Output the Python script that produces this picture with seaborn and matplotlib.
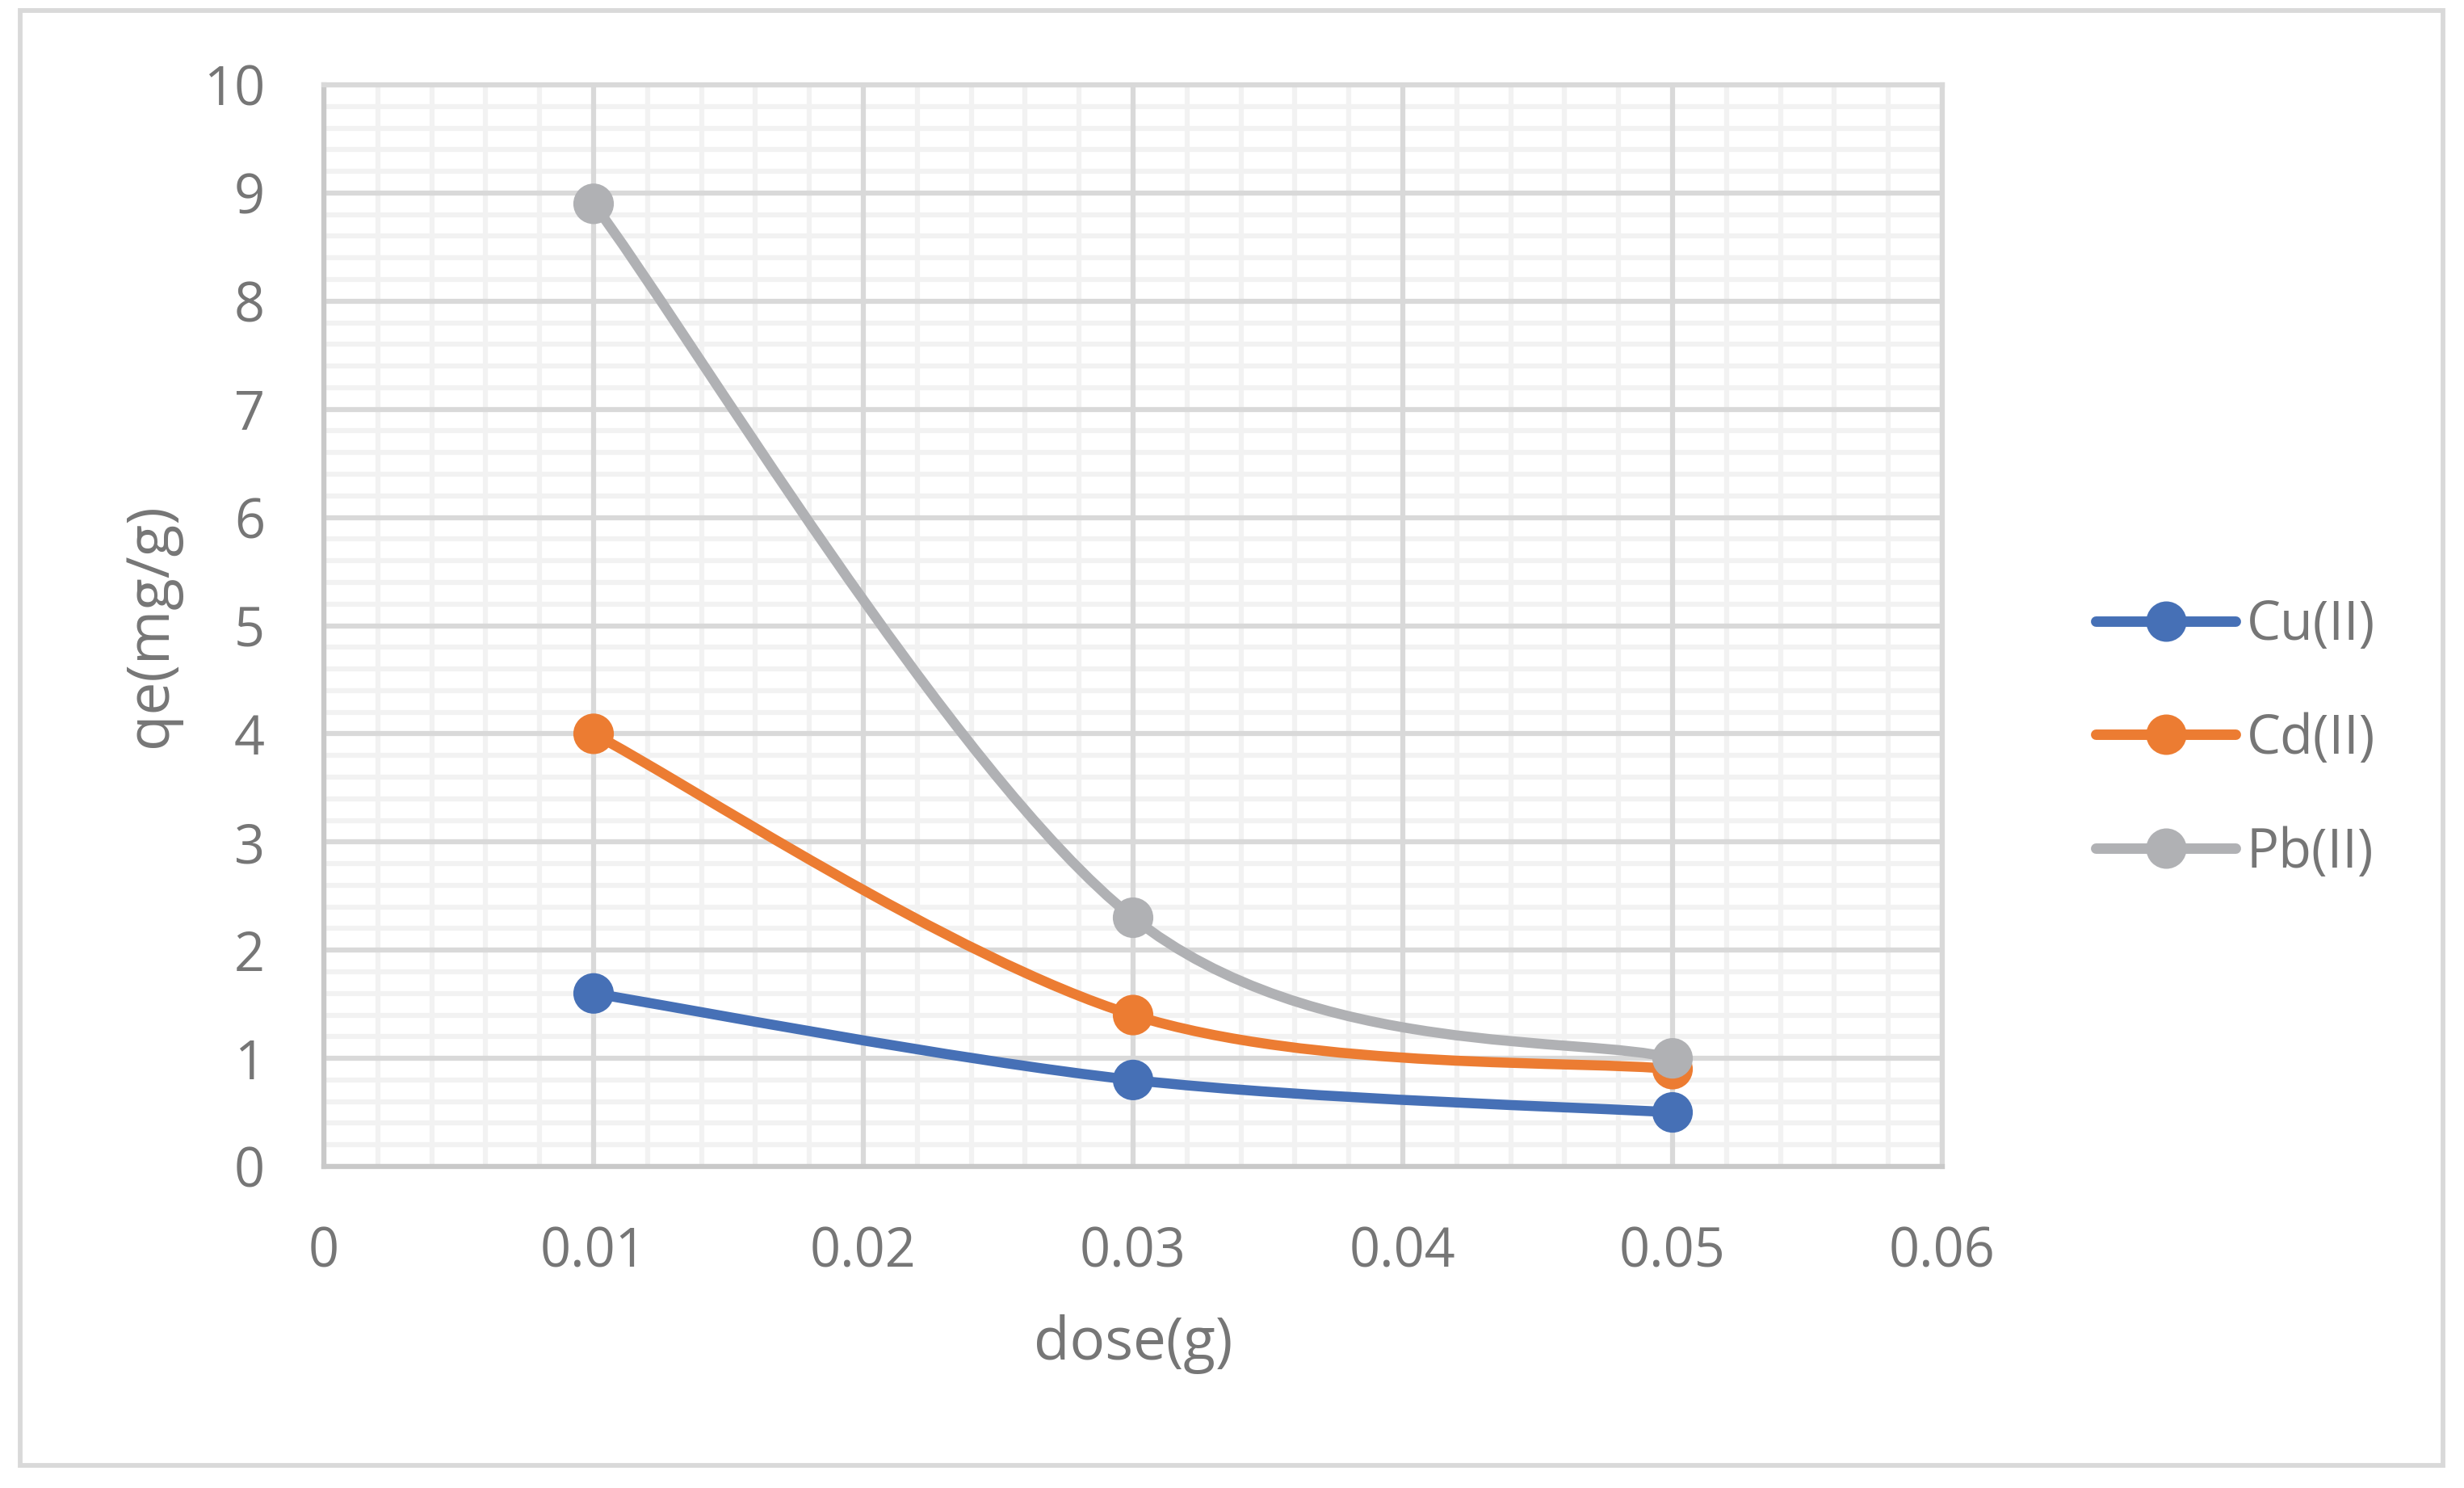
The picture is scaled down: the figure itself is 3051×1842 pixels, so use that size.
import matplotlib
matplotlib.use('Agg')
import matplotlib.pyplot as plt
from matplotlib.path import Path
from matplotlib.patches import PathPatch, Rectangle
from matplotlib.lines import Line2D
from matplotlib.ticker import MultipleLocator, FuncFormatter
import seaborn as sns
import pandas as pd
import numpy as np

# data
dose = [0.01, 0.03, 0.05]
cu = [1.6, 0.8, 0.5]
cd = [4.0, 1.4, 0.9]
pb = [8.9, 2.3, 1.0]
series_names = ['Cu(II)', 'Cd(II)', 'Pb(II)']
series_colors = ['#4670b6', '#ec7c32', '#b0b1b4']

x_label = 'dose(g)'
y_label = 'qe(mg/g)'

text_color = '#767676'

sns.set_style('white')
plt.rcParams['font.family'] = ['Open Sans', 'DejaVu Sans']

df = pd.DataFrame({
    'dose': dose * 3,
    'qe': cu + cd + pb,
    'metal': [n for n in series_names for _ in dose],
})


def smooth_path(xs, ys):
    # kurva bezier seperti garis "smoothed" di Excel
    pts = np.column_stack([xs, ys]).astype(float)
    n = len(pts)
    verts = [pts[0]]
    codes = [Path.MOVETO]
    for i in range(n - 1):
        p_prev = pts[i - 1] if i > 0 else pts[i]
        p_next = pts[i + 2] if i + 2 < n else pts[i + 1]
        c1 = pts[i] + (pts[i + 1] - p_prev) / 6.0
        c2 = pts[i + 1] - (p_next - pts[i]) / 6.0
        verts += [c1, c2, pts[i + 1]]
        codes += [Path.CURVE4] * 3
    return Path(verts, codes)


fig = plt.figure(figsize=(3051 / 300, 1842 / 300), dpi=300)
ax = fig.add_axes([401 / 3051, 1 - 1444 / 1842, 2004 / 3051, 1339 / 1842])

for vals, color in zip([cu, cd, pb], series_colors):
    patch = PathPatch(smooth_path(dose, vals), facecolor='none', edgecolor=color,
                      linewidth=3.0, capstyle='round', joinstyle='round', zorder=3)
    ax.add_patch(patch)

sns.scatterplot(data=df, x='dose', y='qe', hue='metal', palette=series_colors,
                s=145, linewidth=0, legend=False, zorder=4, ax=ax, clip_on=False)

ax.set_xlim(0, 0.06)
ax.set_ylim(0, 10)
ax.xaxis.set_major_locator(MultipleLocator(0.01))
ax.xaxis.set_minor_locator(MultipleLocator(0.002))
ax.yaxis.set_major_locator(MultipleLocator(1))
ax.yaxis.set_minor_locator(MultipleLocator(0.2))
ax.xaxis.set_major_formatter(FuncFormatter(lambda v, p: '%g' % round(v, 4)))
ax.yaxis.set_major_formatter(FuncFormatter(lambda v, p: '%g' % round(v, 4)))

# grid minor dulu, grid mayor di atasnya
ax.grid(which='minor', color='#f2f2f2', linewidth=1.5)
ax.set_axisbelow(True)
ax.vlines(ax.get_xticks(), 0, 10, color='#d9d9d9', linewidth=1.5, zorder=0.8)
ax.hlines(ax.get_yticks(), 0, 0.06, color='#d9d9d9', linewidth=1.5, zorder=0.8)
ax.set_xlim(0, 0.06)
ax.set_ylim(0, 10)

for side in ['top', 'right']:
    ax.spines[side].set_color('#d9d9d9')
    ax.spines[side].set_linewidth(1.5)
for side in ['left', 'bottom']:
    ax.spines[side].set_color('#c9c9c9')
    ax.spines[side].set_linewidth(1.5)

ax.tick_params(which='major', direction='out', length=4.5, width=1.5, color='#d0d0d0',
               labelsize=16, labelcolor=text_color, pad=13)
ax.tick_params(which='minor', length=0)

ax.set_xlabel(x_label, fontsize=17.5, color=text_color, va='center')
ax.set_ylabel(y_label, fontsize=17.5, color=text_color, va='center', rotation=90)
ax.xaxis.set_label_coords(0.5, (1444 - 1664) / 1339)
ax.yaxis.set_label_coords((187 - 401) / 2004, 0.5)

handles = [Line2D([0], [0], color=c, linewidth=3.1, marker='o', markersize=12,
                  markeredgewidth=0, solid_capstyle='round') for c in series_colors]
fig.legend(handles, series_names, loc='center left',
           bbox_to_anchor=(2595 / 3051, 1 - 915 / 1842), frameon=False,
           fontsize=16, labelcolor=text_color, handlelength=2.6, handletextpad=0.2,
           labelspacing=1.1, borderpad=0, borderaxespad=0)

fig.add_artist(Rectangle((25 / 3051, 1 - 1814 / 1842), 3000 / 3051, 1801 / 1842,
                         transform=fig.transFigure, fill=False, edgecolor='#d9d9d9',
                         linewidth=1.4))

fig.savefig('out.png', dpi=300, facecolor='white')
